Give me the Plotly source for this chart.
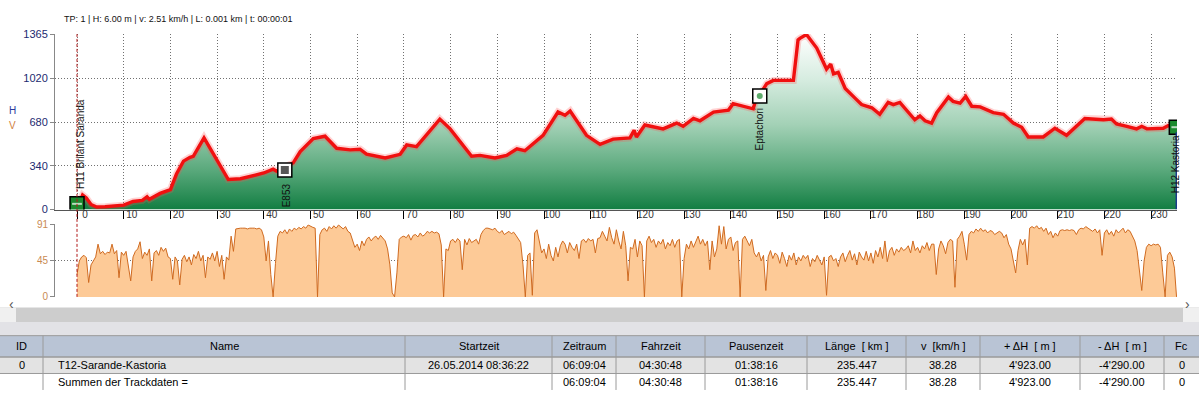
import plotly.graph_objects as go

W, H = 1199, 395


def px(x):
    return x / W


def py(y):
    return 1 - y / H


# ---------------- data ----------------
elev_km = [0, 0.6, 1.2, 2, 3, 4.2, 6, 8.5, 10, 12, 14, 15, 15.5, 17.8, 20, 21.3, 22.8, 24.2, 24.9,
           27.2, 29.5, 32.4, 35, 37.8, 40, 42, 42.7, 44.5, 46.3, 47.8, 50.6, 53.1, 55.6, 58.5, 60.6,
           62, 66, 69.2, 70.6, 72.7, 75.6, 77.7, 79.9, 84.5, 86.3, 89.5, 92, 94.2, 95.9, 99.8, 103,
           104.5, 105.6, 109.1, 112, 114.8, 118.4, 119.3, 119.8, 121.6, 125.5, 128.4, 129.8, 132,
           133.4, 136.3, 139.5, 140.5, 144.8, 145.2, 147.7, 149.1, 153.4, 153.7, 154.4, 154.8, 156.2,
           158.4, 160.5, 161.4, 162, 163, 164.5, 166.6, 168, 170.2, 171.9, 173.7, 174.8, 176.2, 179.4,
           180.5, 181.6, 183, 184.1, 186.6, 187.6, 189.1, 190.3, 191.6, 193.4, 196.2, 198.4, 200.5,
           202.3, 203.7, 206.9, 209.4, 211.9, 215.8, 219.8, 221.5, 222.6, 224.8, 226.9, 228, 229.1,
           232.6, 233.7, 235.4]
elev_m = [45, 60, 113, 90, 40, 20, 22, 30, 35, 63, 72, 100, 80, 126, 156, 277, 377, 407, 415,
          558, 420, 234, 240, 264, 285, 314, 300, 330, 364, 452, 553, 571, 477, 465, 470,
          432, 402, 430, 503, 490, 616, 704, 628, 415, 422, 402, 422, 473, 458, 578, 759,
          734, 767, 578, 508, 548, 558, 616, 565, 658, 628, 673, 648, 709,
          691, 759, 774, 824, 784, 834, 980, 1005, 1005, 1118, 1320, 1332, 1362,
          1257, 1093, 1131, 1056, 1068, 942, 867, 817, 792, 741, 834, 817, 834, 699,
          729, 691, 673, 754, 875, 842, 829, 880, 804, 799, 754, 741, 673,
          641, 565, 565, 633, 578, 709, 699, 704, 666, 648, 628, 648, 628,
          633, 654, 641]

speed_kmh = [
    28, 45, 50, 52, 49, 18, 40, 46, 50, 66, 54, 57, 53, 56, 55, 66, 54, 58, 24, 56,
    52, 57, 38, 20, 50, 57, 60, 69, 48, 56, 52, 60, 20, 55, 58, 52, 62, 57, 61, 50,
    48, 22, 50, 45, 15, 47, 52, 44, 50, 40, 53, 48, 57, 45, 52, 24, 50, 47, 55, 45,
    57, 38, 52, 22, 50, 46, 76, 57, 85, 86, 86, 86, 86, 85, 86, 86, 86, 85, 86, 84,
    75, 45, 70, 28, 0, 42, 76, 82, 80, 84, 79, 85, 82, 86, 84, 87, 85, 88, 86, 90,
    88, 87, 86, 0, 78, 84, 86, 82, 88, 85, 89, 86, 90, 87, 85, 88, 82, 80, 70, 62,
    66, 58, 70, 64, 72, 75, 70, 74, 76, 72, 77, 74, 70, 60, 40, 5, 0, 30, 72, 75,
    76, 74, 78, 71, 77, 78, 75, 80, 76, 78, 82, 80, 82, 80, 81, 79, 65, 0, 60, 58,
    70, 72, 68, 73, 70, 34, 72, 65, 73, 68, 70, 72, 66, 78, 83, 86, 86, 85, 84, 86,
    82, 80, 83, 78, 80, 82, 79, 81, 77, 72, 68, 40, 0, 52, 55, 2, 80, 84, 70, 55,
    60, 48, 66, 52, 45, 62, 50, 64, 70, 66, 55, 68, 62, 58, 66, 48, 70, 72, 68, 73,
    70, 72, 55, 73, 74, 82, 76, 70, 87, 74, 66, 84, 70, 60, 82, 64, 20, 62, 60, 72,
    50, 70, 64, 0, 70, 76, 68, 72, 62, 70, 66, 72, 60, 68, 64, 72, 62, 70, 72, 0,
    48, 66, 60, 70, 62, 68, 76, 66, 72, 64, 70, 34, 70, 50, 60, 89, 66, 88, 60, 72,
    75, 58, 68, 70, 0, 72, 76, 70, 64, 72, 55, 50, 56, 45, 52, 8, 50, 58, 48, 55,
    52, 42, 56, 48, 38, 52, 46, 55, 40, 50, 45, 52, 48, 52, 38, 48, 44, 52, 46, 40,
    50, 2, 50, 52, 45, 48, 38, 50, 55, 44, 52, 58, 46, 54, 40, 56, 50, 46, 57, 45,
    55, 42, 58, 50, 62, 48, 70, 44, 58, 62, 52, 60, 56, 62, 58, 60, 64, 55, 70, 58,
    62, 55, 64, 60, 68, 58, 66, 66, 28, 60, 70, 64, 54, 68, 72, 70, 12, 72, 76, 82,
    66, 46, 78, 82, 80, 85, 82, 86, 82, 84, 80, 83, 82, 78, 80, 82, 80, 74, 78, 66,
    60, 44, 30, 58, 72, 65, 72, 40, 86, 88, 86, 89, 85, 87, 82, 86, 78, 82, 74, 80,
    76, 83, 84, 83, 84, 83, 84, 83, 78, 84, 86, 85, 88, 86, 84, 82, 85, 80, 84, 52,
    80, 84, 78, 82, 76, 84, 80, 83, 86, 80, 84, 82, 76, 70, 58, 35, 8, 45, 62, 66,
    64, 66, 65, 66, 62, 30, 0, 52, 56, 50, 36, 0]
speed_km = [i * 0.5 for i in range(len(speed_kmh) - 1)] + [235.447]

x_ticks = list(range(0, 240, 10))
h_ticks = [0, 340, 680, 1020, 1365]
v_ticks = [0, 45, 91]

wp_names = ["H11 Brilant Saranda", "E853", "Eptachori", "H12 Kastoria"]
wp_km = [0, 44.5, 146.2, 235.4]
wp_m = [45, 309, 884, 641]

header_info = "TP: 1 | H: 6.00 m | v: 2.51 km/h | L: 0.001 km | t: 00:00:01"

tbl_cols = ["ID", "Name", "Startzeit", "Zeitraum", "Fahrzeit", "Pausenzeit", "Länge  [ km ]",
            "v  [km/h ]", "+ ΔH  [ m ]", "- ΔH  [ m ]", "Fc"]
tbl_row1 = ["0", "T12-Sarande-Kastoria", "26.05.2014 08:36:22", "06:09:04", "04:30:48", "01:38:16",
            "235.447", "38.28", "4'923.00", "-4'290.00", "0"]
tbl_row2 = ["", "Summen der Trackdaten =", "", "06:09:04", "04:30:48", "01:38:16",
            "235.447", "38.28", "4'923.00", "-4'290.00", "0"]
tbl_widths = [43, 362, 147, 64, 89, 102, 99, 74, 100, 84, 35]

# ---------------- figure ----------------
FONT = "Liberation Sans, Arial, sans-serif"
XR = [(55 - 77) / 4.67, (1177 - 77) / 4.67]

fig = go.Figure()

# elevation fill with vertical gradient
fig.add_trace(go.Scatter(
    x=elev_km, y=elev_m, mode="lines", line=dict(width=0, color="rgba(0,0,0,0)"),
    fill="tozeroy",
    fillgradient=dict(type="vertical", start=0, stop=1365,
                      colorscale=[[0, "#08783a"], [0.25, "#5aa97c"], [0.5, "#a3d1b6"],
                                  [0.75, "#d6ece0"], [1, "#ffffff"]]),
    hoverinfo="skip", xaxis="x", yaxis="y"))
# halo + red line
fig.add_trace(go.Scatter(x=elev_km, y=elev_m, mode="lines",
                         line=dict(width=7, color="rgba(255,80,80,0.25)"),
                         hoverinfo="skip", xaxis="x", yaxis="y"))
fig.add_trace(go.Scatter(x=elev_km, y=elev_m, mode="lines",
                         line=dict(width=3.4, color="#f01010"),
                         xaxis="x", yaxis="y"))

# waypoint markers
fig.add_trace(go.Scatter(
    x=wp_km, y=wp_m, mode="markers",
    marker=dict(symbol="square", size=14,
                color=["#1b8a2e", "#ffffff", "#ffffff", "#1b8a2e"],
                line=dict(color="#000000", width=1.5)),
    hoverinfo="skip", xaxis="x", yaxis="y"))
fig.add_trace(go.Scatter(
    x=wp_km, y=wp_m, mode="markers",
    marker=dict(symbol=["line-ew", "square", "circle", "line-ew"], size=[7, 6, 4, 7],
                color=["#ffffff", "#111111", "#1b8a2e", "#ffffff"],
                line=dict(color=["#ffffff", "#111111", "#1b8a2e", "#ffffff"], width=2)),
    hoverinfo="skip", xaxis="x", yaxis="y"))

# speed
fig.add_trace(go.Scatter(x=speed_km, y=speed_kmh, mode="lines",
                         line=dict(width=1, color="#cf6a20"),
                         fill="tozeroy", fillcolor="#fdca97",
                         xaxis="x2", yaxis="y2"))

grid = dict(showgrid=True, gridcolor="#707070", griddash="1px,2px", gridwidth=1)

fig.update_layout(
    width=W, height=H, margin=dict(l=0, r=0, t=0, b=0), autosize=False,
    paper_bgcolor="white", plot_bgcolor="white", showlegend=False,
    font=dict(family=FONT, size=10, color="#222"),
    xaxis=dict(domain=[px(55), px(1177)], range=XR, tickvals=x_ticks,
               ticks="outside", ticklen=8, tickcolor="#000", tickwidth=1,
               ticklabelshift=8, ticklabelstandoff=-13,
               tickfont=dict(size=10, color="#333"),
               showline=True, linecolor="#555", zeroline=False, anchor="y", **grid),
    yaxis=dict(domain=[py(210), py(29)], range=[0, 1365], tickvals=h_ticks,
               ticks="outside", ticklen=4, tickcolor="#888",
               tickfont=dict(size=11, color="#1c2a70"),
               showline=True, linecolor="#888", zeroline=False, anchor="x", **grid),
    xaxis2=dict(domain=[px(55), px(1177)], range=XR, matches="x", showticklabels=False,
                showgrid=False, zeroline=False, anchor="y2"),
    yaxis2=dict(domain=[py(300), py(225)], range=[0, 91], tickvals=v_ticks,
                ticks="outside", ticklen=4, tickcolor="#888",
                tickfont=dict(size=10, color="#c98a52"),
                showline=True, linecolor="#888", zeroline=False, anchor="x2", **grid),
)

shapes = []
# red dashed start line
shapes.append(dict(type="line", xref="x", yref="paper", x0=0, x1=0, y0=py(300), y1=py(29),
                   line=dict(color="#b01818", width=1, dash="3px,2px"), layer="above"))
# blue end line
shapes.append(dict(type="line", xref="x", yref="y", x0=wp_km[-1], x1=wp_km[-1], y0=0, y1=wp_m[-1] - 40,
                   line=dict(color="#1a3a8a", width=1.5), layer="above"))
# scrollbar and bands
shapes.append(dict(type="rect", xref="paper", yref="paper", x0=0, x1=1, y0=py(326), y1=py(311),
                   fillcolor="#cdcdcd", line=dict(width=0), layer="above"))
shapes.append(dict(type="rect", xref="paper", yref="paper", x0=0, x1=px(16), y0=py(326), y1=py(311),
                   fillcolor="#f0f0f0", line=dict(width=0), layer="above"))
shapes.append(dict(type="rect", xref="paper", yref="paper", x0=px(1183), x1=1, y0=py(326), y1=py(311),
                   fillcolor="#f0f0f0", line=dict(width=0), layer="above"))
shapes.append(dict(type="rect", xref="paper", yref="paper", x0=0, x1=1, y0=py(340), y1=py(326),
                   fillcolor="#e2e2e6", line=dict(width=0), layer="above"))

# table drawn from shapes + text
row_tops = [340, 362, 379]
row_bots = [362, 379, 396]
row_fill = ["#b9c4d5", "#e3e3e3", "#ffffff"]
rows = [tbl_cols, tbl_row1, tbl_row2]
edges = [0]
for w in tbl_widths:
    edges.append(edges[-1] + w)
for t, b, f in zip(row_tops, row_bots, row_fill):
    shapes.append(dict(type="rect", xref="paper", yref="paper", x0=0, x1=1, y0=py(b), y1=py(t),
                       fillcolor=f, line=dict(width=0), layer="above"))
for yy in row_tops + [362]:
    shapes.append(dict(type="line", xref="paper", yref="paper", x0=0, x1=1, y0=py(yy), y1=py(yy),
                       line=dict(color="#9a9a9a", width=1), layer="above"))
for e in edges[1:-1]:
    shapes.append(dict(type="line", xref="paper", yref="paper", x0=px(e), x1=px(e),
                       y0=py(396), y1=py(340), line=dict(color="#9a9a9a", width=1), layer="above"))
fig.update_layout(shapes=shapes)

ann = []
ann.append(dict(text=header_info, xref="paper", yref="paper", x=px(62), y=py(13),
                xanchor="left", yanchor="middle", showarrow=False,
                font=dict(size=9, color="#111")))
ann.append(dict(text="H", xref="paper", yref="paper", x=px(7), y=py(100), showarrow=False,
                font=dict(size=10, color="#2a3a9a")))
ann.append(dict(text="V", xref="paper", yref="paper", x=px(7), y=py(116), showarrow=False,
                font=dict(size=10, color="#d08040")))
ann.append(dict(text="‹", xref="paper", yref="paper", x=px(7), y=py(318), showarrow=False,
                font=dict(size=14, color="#555")))
ann.append(dict(text="›", xref="paper", yref="paper", x=px(1192), y=py(318), showarrow=False,
                font=dict(size=14, color="#555")))
# waypoint labels (vertical)
lbl_pos = [(0.6, 509), (44.8, 113), (146.2, 622), (235.3, 351)]
for name, (lx, ly) in zip(wp_names, lbl_pos):
    ann.append(dict(text=name, xref="x", yref="y", x=lx, y=ly, textangle=-90, showarrow=False,
                    font=dict(size=10, color="#111")))
# table text
row_centers = [351, 370.5, 387.5]
for r, (vals, yc) in enumerate(zip(rows, row_centers)):
    for c, v in enumerate(vals):
        if v == "":
            continue
        if r > 0 and c == 1:
            ann.append(dict(text=v, xref="paper", yref="paper", x=px(edges[c] + 13), y=py(yc),
                            xanchor="left", yanchor="middle", showarrow=False,
                            font=dict(size=11, color="#000")))
        else:
            ann.append(dict(text=v, xref="paper", yref="paper", x=px((edges[c] + edges[c + 1]) / 2),
                            y=py(yc), xanchor="center", yanchor="middle", showarrow=False,
                            font=dict(size=11, color="#000")))
fig.update_layout(annotations=ann)

fig.write_html(
    "out.html",
    config={"displayModeBar": False},
    post_script="document.body.style.margin='0px';document.body.style.padding='0px';"
                "document.documentElement.style.overflow='hidden';document.body.style.overflow='hidden';",
)
